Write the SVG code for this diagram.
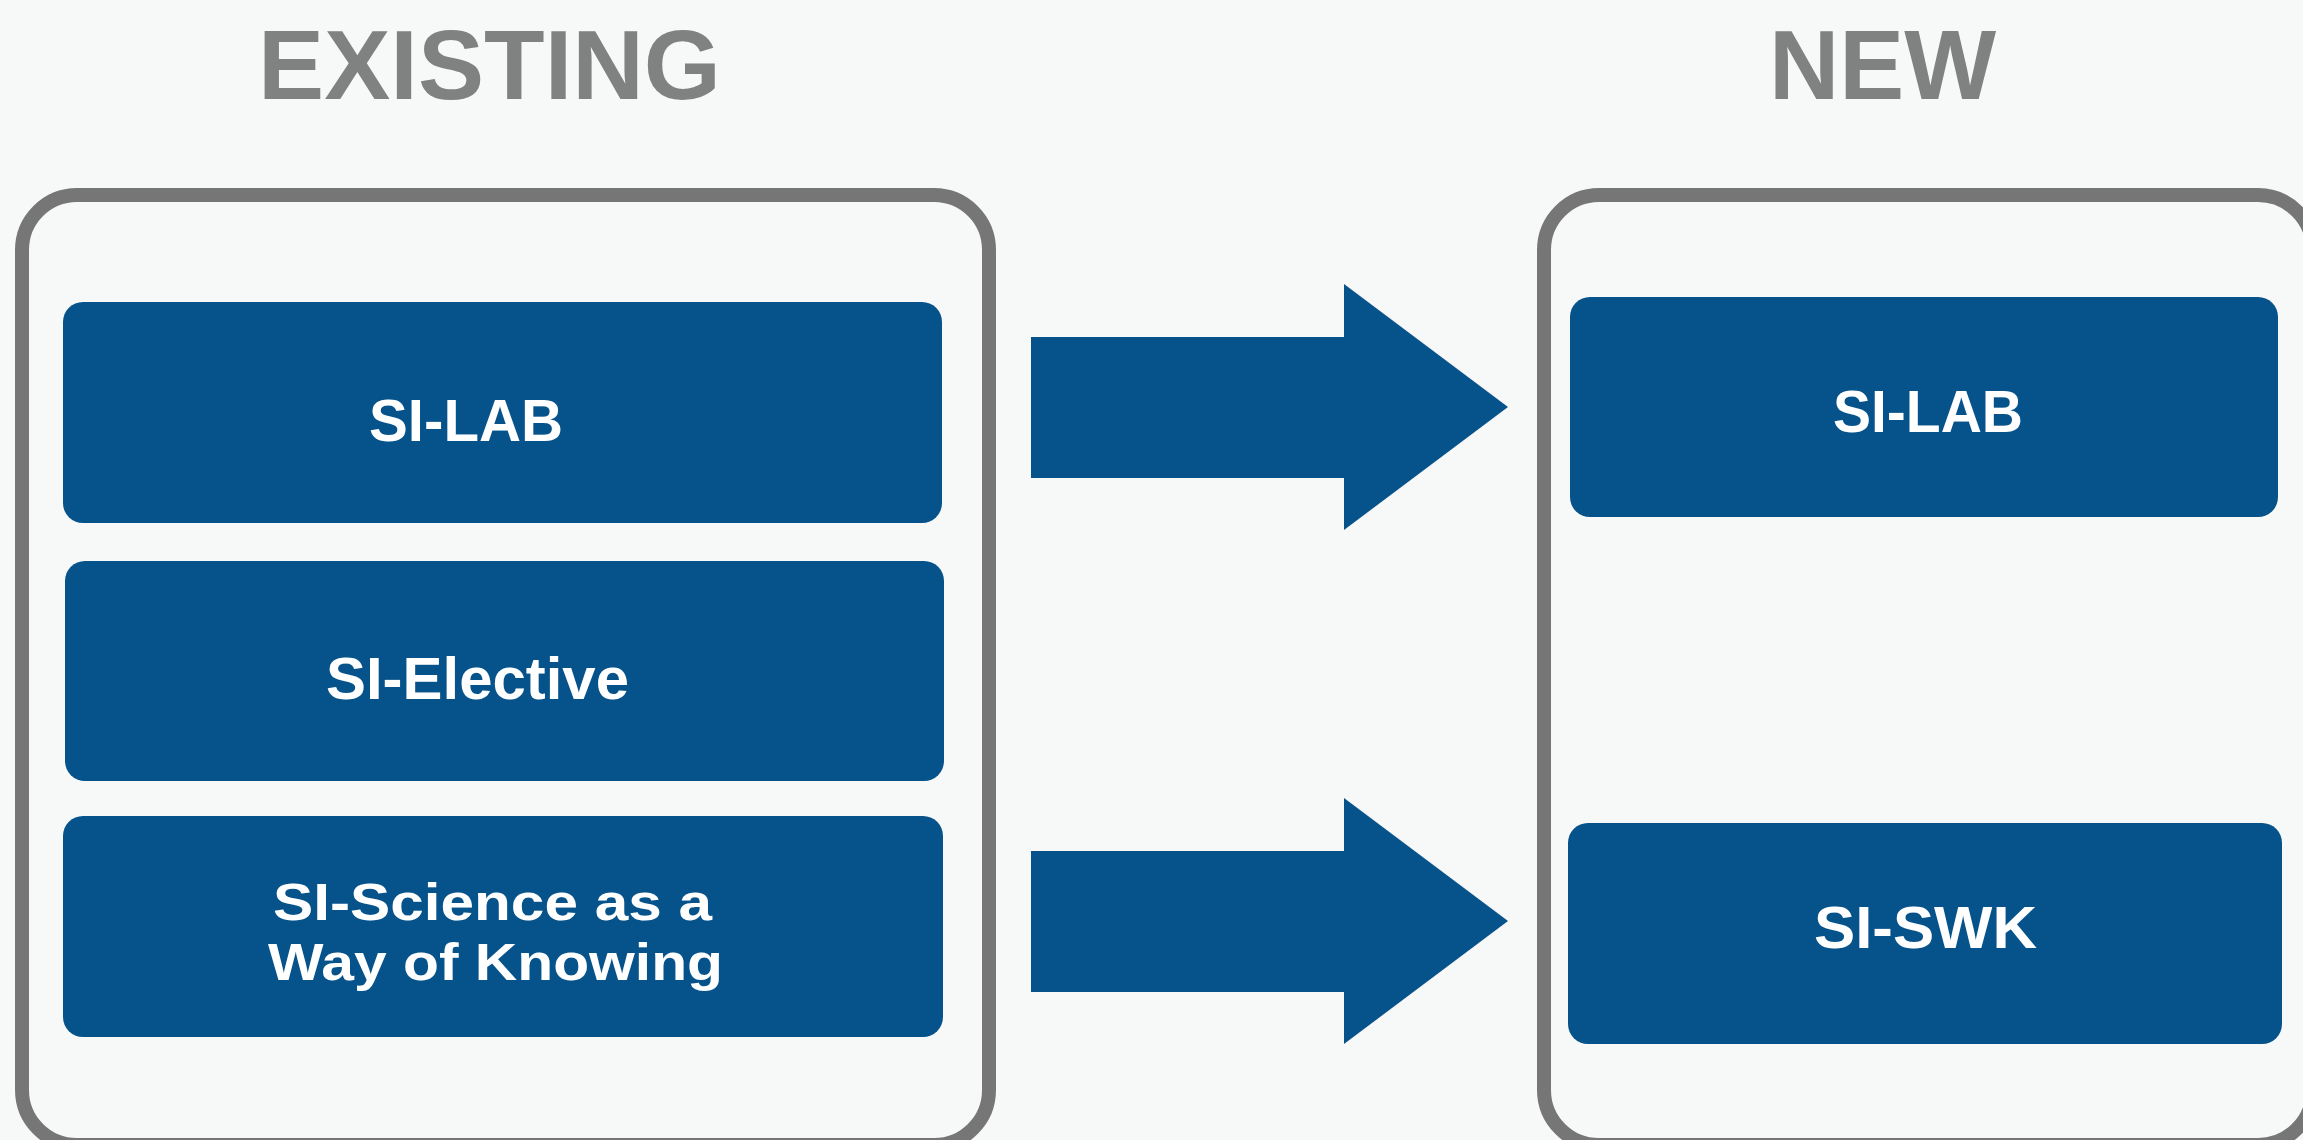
<svg xmlns="http://www.w3.org/2000/svg" width="2303" height="1140" viewBox="0 0 2303 1140">
<style>
.title{font-family:"Liberation Sans",Arial,sans-serif;font-weight:bold;font-size:98px;fill:#808281}
.frame{fill:none;stroke:#767676;stroke-width:14}
.box{fill:#06528A}
.lbl{font-family:"Liberation Sans",Arial,sans-serif;font-weight:bold;font-size:60px;fill:#FFFFFF}
.lbl2{font-family:"Liberation Sans",Arial,sans-serif;font-weight:bold;font-size:52px;fill:#FFFFFF}
.arrow{fill:#06528A}
</style>
<rect width="2303" height="1140" fill="#F7F9F9"/>
<g id="title-existing"><text class="title" x="258" y="99" textLength="463" lengthAdjust="spacingAndGlyphs">EXISTING</text></g>
<g id="title-new"><text class="title" x="1769" y="99" textLength="227" lengthAdjust="spacingAndGlyphs">NEW</text></g>
<g id="frame-existing"><rect class="frame" x="22" y="195" width="967" height="950" rx="55" ry="55"/></g>
<g id="frame-new"><rect class="frame" x="1544" y="195" width="769" height="950" rx="55" ry="55"/></g>
<g id="existing-silab"><rect class="box" x="63" y="302" width="879" height="221" rx="20"/><text class="lbl" x="369" y="441" textLength="194" lengthAdjust="spacingAndGlyphs">SI-LAB</text></g>
<g id="existing-sielective"><rect class="box" x="65" y="561" width="879" height="220" rx="20"/><text class="lbl" x="326" y="699" textLength="303" lengthAdjust="spacingAndGlyphs">SI-Elective</text></g>
<g id="existing-siswk"><rect class="box" x="63" y="816" width="880" height="221" rx="20"/><text class="lbl2" x="273" y="920" textLength="439" lengthAdjust="spacingAndGlyphs">SI-Science as a</text><text class="lbl2" x="268" y="980" textLength="455" lengthAdjust="spacingAndGlyphs">Way of Knowing</text></g>
<g id="new-silab"><rect class="box" x="1570" y="297" width="708" height="220" rx="20"/><text class="lbl" x="1833" y="432" textLength="190" lengthAdjust="spacingAndGlyphs">SI-LAB</text></g>
<g id="new-siswk"><rect class="box" x="1568" y="823" width="714" height="221" rx="20"/><text class="lbl" x="1814" y="948" textLength="223" lengthAdjust="spacingAndGlyphs">SI-SWK</text></g>
<g id="connectors">
<polygon class="arrow" points="1031,337 1344,337 1344,284 1508,407 1344,530 1344,478 1031,478"/>
<polygon class="arrow" points="1031,851 1344,851 1344,798 1508,921 1344,1044 1344,992 1031,992"/>
</g>
</svg>
